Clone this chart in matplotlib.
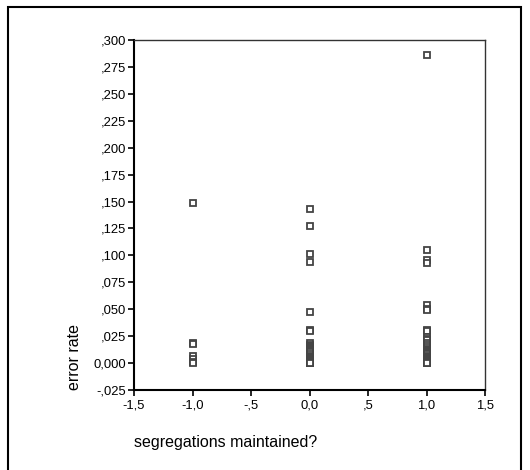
import numpy as np
import matplotlib.pyplot as plt
from matplotlib.ticker import FuncFormatter, MultipleLocator
from matplotlib.patches import Rectangle

plt.rcParams['font.family'] = ['Liberation Sans', 'DejaVu Sans']

# ---- data: error rate per group of "segregations maintained?" ----
rate_neg = [0.149, 0.019, 0.018, 0.007, 0.004, 0.001, 0.000]
rate_zero = [0.143, 0.127, 0.101, 0.094, 0.047, 0.031, 0.030,
             0.019, 0.017, 0.016, 0.015, 0.014, 0.013, 0.012, 0.011,
             0.010, 0.008, 0.007, 0.006, 0.005, 0.004, 0.003, 0.002,
             0.001, 0.000, 0.000, 0.000]
rate_one = [0.286, 0.105, 0.096, 0.093, 0.054, 0.050, 0.049,
            0.031, 0.030, 0.024, 0.022, 0.021, 0.019, 0.017, 0.015,
            0.013, 0.012, 0.011, 0.010, 0.009, 0.008, 0.007, 0.006,
            0.005, 0.004, 0.003, 0.002, 0.001, 0.000, 0.000]
groups = [-1.0, 0.0, 1.0]


def spss_fmt(v, decimals):
    # comma decimals, no leading zero except for zero itself
    s = f"{abs(v):.{decimals}f}".replace(".", ",")
    if abs(v) < 1 and abs(v) > 1e-9:
        s = s[1:]
    return ("-" if v < -1e-9 else "") + s


fig = plt.figure(figsize=(5.3, 4.7), dpi=100)
fig.patches.append(Rectangle((8 / 530, -0.05), 513 / 530, 1 - 7 / 470 + 0.05,
                             transform=fig.transFigure, fill=False,
                             edgecolor='black', linewidth=1.5))

ax = fig.add_axes([134 / 530, 80 / 470, 351 / 530, 350 / 470])

for x, vals in zip(groups, [rate_neg, rate_zero, rate_one]):
    ax.plot(np.full(len(vals), x), vals, 's', ms=4.4, mfc='white',
            mec='#444444', mew=1.3, linestyle='none')

ax.set_xlim(-1.5, 1.5)
ax.set_ylim(-0.025, 0.300)
ax.xaxis.set_major_locator(MultipleLocator(0.5))
ax.yaxis.set_major_locator(MultipleLocator(0.025))
ax.xaxis.set_major_formatter(FuncFormatter(lambda v, p: spss_fmt(v, 1)))
ax.yaxis.set_major_formatter(FuncFormatter(lambda v, p: spss_fmt(v, 3)))
ax.tick_params(direction='out', length=4, width=1.2, labelsize=9.4,
               pad=3, color='black')
ax.tick_params(axis='y', pad=2)

for side in ['left', 'bottom']:
    ax.spines[side].set_linewidth(1.5)
for side in ['top', 'right']:
    ax.spines[side].set_linewidth(1.0)
    ax.spines[side].set_color('#333333')

ax.set_ylabel('error rate', fontsize=11.5, loc='bottom', labelpad=8)
fig.text(134 / 530, 1 - 443 / 470, 'segregations maintained?',
         fontsize=11.5, ha='left', va='center')

fig.savefig('out.png', dpi=100)
